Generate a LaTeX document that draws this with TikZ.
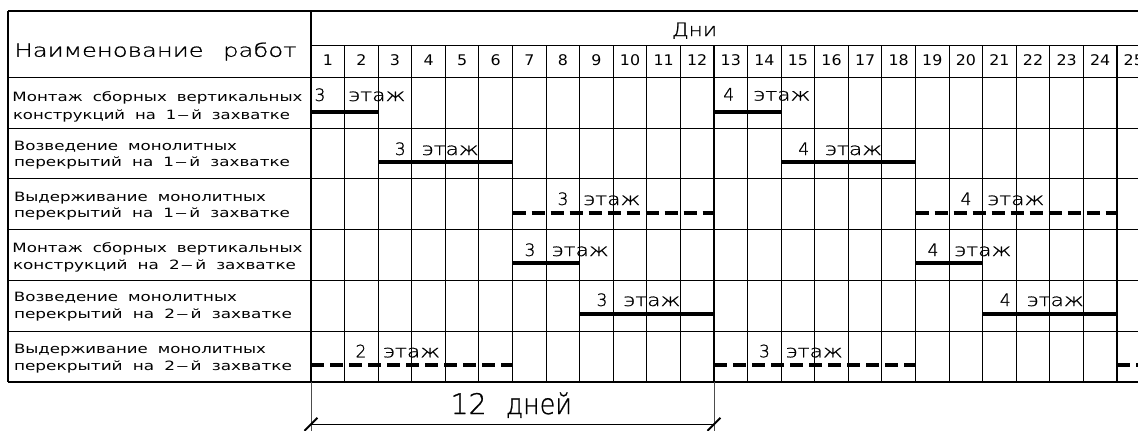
\documentclass[tikz,border=0pt]{standalone}
\usepackage{fontspec}
\usepackage{graphicx}
\setmainfont{DejaVu Sans}
\IfFontExistsTF{DejaVu Sans ExtraLight}{\newfontfamily\lightf[FakeBold=0.9]{DejaVu Sans ExtraLight}}{\newfontfamily\lightf{DejaVu Sans}}
\newcommand\sw[2]{\resizebox{#1pt}{\height}{#2}}
\newcommand\gp{\hspace{0.6em}}
\newcommand\dsh{\kern0.05em\scalebox{1.5}[1]{–}\kern0.12em}
\tikzset{
  gridline/.style={line width=0.8pt, draw=black},
  solidbar/.style={line width=3pt},
  dashbar/.style={line width=3.2pt, dash pattern=on 9.75pt off 4.5pt},
  rowlbl/.style={inner sep=0pt, outer sep=0pt, anchor=base west, font=\fontsize{9.6}{11}\selectfont},
  daynum/.style={inner sep=0pt, outer sep=0pt, anchor=base, font=\fontsize{11}{13}\selectfont},
  flnum/.style={inner sep=0pt, outer sep=0pt, anchor=base, font=\lightf\fontsize{12.8}{15}\selectfont},
  fltxt/.style={inner sep=0pt, outer sep=0pt, anchor=base west, font=\lightf\fontsize{12.8}{15}\selectfont},
  headtxt/.style={inner sep=0pt, outer sep=0pt, anchor=base west, font=\lightf\fontsize{13.7}{16}\selectfont},
  bigtxt/.style={inner sep=0pt, outer sep=0pt, anchor=base west, font=\lightf\fontsize{21.3}{25}\selectfont},
  extline/.style={line width=0.5pt, draw=black!70},
  dimline/.style={line width=0.6pt},
  dimtick/.style={line width=1.5pt},
}
\begin{document}
\begin{tikzpicture}[x=0.75pt,y=-0.75pt]
\useasboundingbox (0,0) rectangle (1138,430);
% grid
\draw[gridline] (8,11) -- (1140,11);
\draw[gridline] (311,45.5) -- (1140,45.5);
\foreach \yy in {77.3,128.1,178.9,229.6,280.4,331.2,382} \draw[gridline] (8,\yy) -- (1140,\yy);
\draw[gridline] (8,11) -- (8,382);
\draw[gridline] (311,11) -- (311,382);
\foreach \k in {1,...,24} \draw[gridline] ({311+\k*33.583},45.5) -- ({311+\k*33.583},382);
% header
\node[headtxt] (hname) at (14.5,56.7) {\sw{211.5}{Наименование\hspace{0.8em}работ}};
\node[headtxt] (hdays) at (672,36) {\sw{33.75}{Дни}};
\foreach \i in {1,...,25} \node[daynum] (day\i) at ({311+(\i-0.5)*33.583},65.7) {\scalebox{1.08}[1]{\i}};
% row labels
\node[rowlbl] (r1a) at (12.5,101.7) {\sw{217.5}{Монтаж\gp сборных\gp вертикальных}};
\node[rowlbl] (r1b) at (13,119) {\sw{207.75}{конструкций\gp на\gp 1\dsh й\gp захватке}};
\node[rowlbl] (r2a) at (14,150.7) {\sw{167.25}{Возведение\gp монолитных}};
\node[rowlbl] (r2b) at (14,166.5) {\sw{207}{перекрытий\gp на\gp 1\dsh й\gp захватке}};
\node[rowlbl] (r3a) at (14,201.7) {\sw{189}{Выдерживание\gp монолитных}};
\node[rowlbl] (r3b) at (14,217.5) {\sw{207}{перекрытий\gp на\gp 1\dsh й\gp захватке}};
\node[rowlbl] (r4a) at (12.5,252.5) {\sw{217.5}{Монтаж\gp сборных\gp вертикальных}};
\node[rowlbl] (r4b) at (13,269.3) {\sw{212.25}{конструкций\gp на\gp 2\dsh й\gp захватке}};
\node[rowlbl] (r5a) at (14,301.7) {\sw{167.25}{Возведение\gp монолитных}};
\node[rowlbl] (r5b) at (14,318.3) {\sw{208.5}{перекрытий\gp на\gp 2\dsh й\gp захватке}};
\node[rowlbl] (r6a) at (14,353.3) {\sw{189}{Выдерживание\gp монолитных}};
\node[rowlbl] (r6b) at (14,370) {\sw{208.5}{перекрытий\gp на\gp 2\dsh й\gp захватке}};
% bars
\draw[solidbar] (311,111.7) -- (378.17,111.7);
\draw[solidbar] (714,111.7) -- (781.16,111.7);
\draw[solidbar] (378.17,162.3) -- (512.5,162.3);
\draw[solidbar] (781.16,162.3) -- (915.5,162.3);
\draw[dashbar] (512.5,212.7) -- (714,212.7);
\draw[dashbar] (915.5,212.7) -- (1117,212.7);
\draw[solidbar] (512.5,263.3) -- (579.66,263.3);
\draw[solidbar] (915.5,263.3) -- (982.66,263.3);
\draw[solidbar] (579.66,314.3) -- (714,314.3);
\draw[solidbar] (982.66,314.3) -- (1117,314.3);
\draw[dashbar] (311,365) -- (512.5,365);
\draw[dashbar] (714,365) -- (915.5,365);
\draw[dashbar] (1117,365) -- (1145,365);
% floor labels
\node[flnum] (f1a) at (320,101) {3};
\node[fltxt] (t1a) at (348.3,101) {\sw{42.75}{этаж}};
\node[flnum] (f1b) at (728.7,100.5) {4};
\node[fltxt] (t1b) at (753.3,100.5) {\sw{42.75}{этаж}};
\node[flnum] (f2a) at (400.3,155) {3};
\node[fltxt] (t2a) at (421.7,155) {\sw{42.75}{этаж}};
\node[flnum] (f2b) at (803.7,155) {4};
\node[fltxt] (t2b) at (825,155) {\sw{42.75}{этаж}};
\node[flnum] (f3a) at (563,205) {3};
\node[fltxt] (t3a) at (583.3,205) {\sw{42.75}{этаж}};
\node[flnum] (f3b) at (966,205) {4};
\node[fltxt] (t3b) at (987.3,205) {\sw{42.75}{этаж}};
\node[flnum] (f4a) at (530,256) {3};
\node[fltxt] (t4a) at (551.7,256) {\sw{42.75}{этаж}};
\node[flnum] (f4b) at (933,256) {4};
\node[fltxt] (t4b) at (954.3,256) {\sw{42.75}{этаж}};
\node[flnum] (f5a) at (602,306) {3};
\node[fltxt] (t5a) at (623.3,306) {\sw{42.75}{этаж}};
\node[flnum] (f5b) at (1005.3,306) {4};
\node[fltxt] (t5b) at (1026.7,306) {\sw{42.75}{этаж}};
\node[flnum] (f6a) at (361,357.3) {2};
\node[fltxt] (t6a) at (383,357.3) {\sw{42.75}{этаж}};
\node[flnum] (f6b) at (764.5,357.3) {3};
\node[fltxt] (t6b) at (785.7,357.3) {\sw{42.75}{этаж}};
% dimension
\coordinate (extLtop) at (311,382);
\coordinate (extLbot) at (311,431);
\coordinate (extRtop) at (714,382);
\coordinate (extRbot) at (714,431);
\coordinate (dimL) at (311,424.3);
\coordinate (dimR) at (714,424.3);
\draw[extline] (extLtop) -- (extLbot);
\draw[extline] (extRtop) -- (extRbot);
\draw[dimline] (dimL) -- (dimR);
\draw[dimtick] ([shift={(-6.5,6.5)}]dimL) -- ([shift={(6.5,-6.5)}]dimL);
\draw[dimtick] ([shift={(-6.5,6.5)}]dimR) -- ([shift={(6.5,-6.5)}]dimR);
\node[bigtxt] (dimnum) at (450.5,414) {12};
\node[bigtxt] (dimword) at (506,414) {\sw{49.5}{дней}};
\end{tikzpicture}
\end{document}
